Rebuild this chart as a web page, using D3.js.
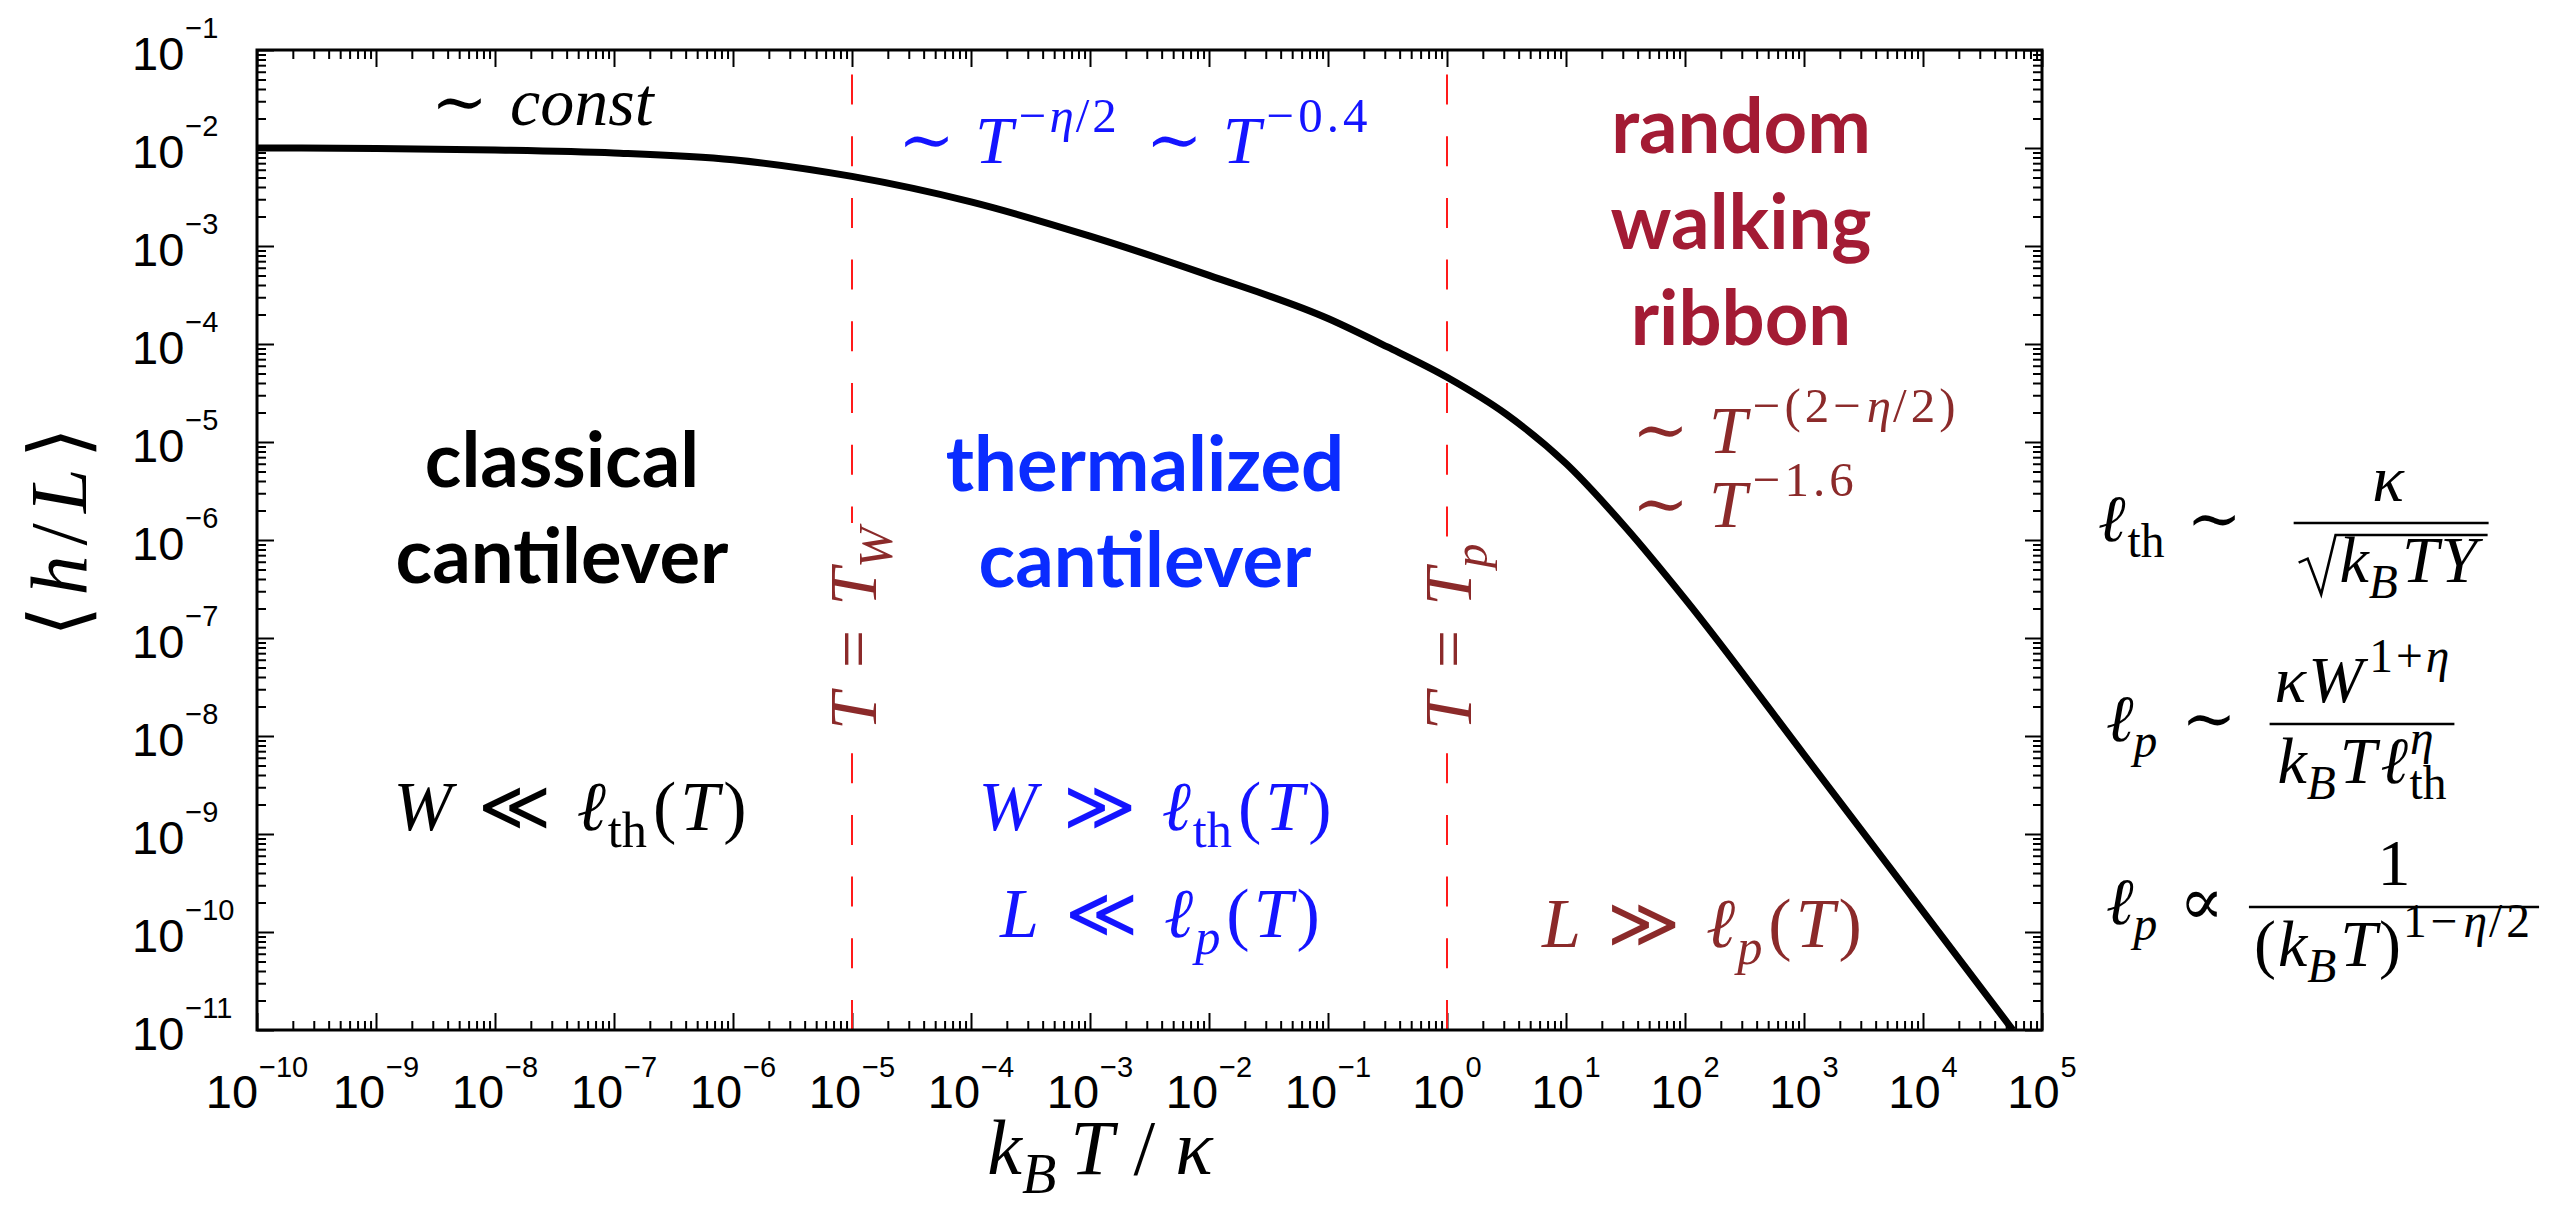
<!DOCTYPE html>
<html>
<head>
<meta charset="utf-8">
<script src="https://cdn.jsdelivr.net/npm/d3@7"></script>
<style>
  html, body { margin: 0; padding: 0; background: #fff; }
  svg { display: block; }
</style>
</head>
<body>
<svg id="chart" width="2567" height="1219"></svg>
<script>
// ---- data -------------------------------------------------------------
// reduced temperature k_B T / kappa
const temperature = [1e-10, 1e-9, 1e-8, 1e-7, 1e-6, 1e-5, 1e-4, 1e-3, 1e-2, 1e-1,
                     0.316, 1, 3.16, 10, 31.6, 100, 1e3, 1e4, 5.69e4];
// mean deflection <h/L>
const deflection  = [1.0e-2, 9.89e-3, 9.55e-3, 8.91e-3, 7.59e-3, 5.13e-3, 2.82e-3, 1.26e-3, 5.01e-4, 1.82e-4,
                     9.33e-5, 4.57e-5, 1.91e-5, 6.03e-6, 1.35e-6, 2.51e-7, 6.46e-9, 1.62e-10, 1.0e-11];
// crossover temperatures T_W and T_p
const crossovers = [1e-5, 1];
const crossoverNames = ["W", "p"];
// axis decades
const xTickExponents = [-10, -9, -8, -7, -6, -5, -4, -3, -2, -1, 0, 1, 2, 3, 4, 5];
const yTickExponents = [-11, -10, -9, -8, -7, -6, -5, -4, -3, -2, -1];

// ---- fonts & colours --------------------------------------------------
const MATH = "'Liberation Serif','DejaVu Serif',serif";
const SANS = "'Liberation Sans',Arial,Helvetica,sans-serif";
const BOLD = "Lato,'Open Sans',sans-serif";
const BLUE = "#0a2cff", BLUE_M = "#1414ff";
const RED_B = "#a31b34", RED_M = "#8b2a2a";

const svg = d3.select("#chart");
const plot = { left: 257, right: 2042, top: 50, bottom: 1030 };

const x = d3.scaleLog()
  .domain([10 ** xTickExponents[0], 10 ** xTickExponents[xTickExponents.length - 1]])
  .range([plot.left, plot.right]);
const y = d3.scaleLog()
  .domain([10 ** yTickExponents[0], 10 ** yTickExponents[yTickExponents.length - 1]])
  .range([plot.bottom, plot.top]);

// minor ticks 2..9 within each decade
function minors(exps) {
  const out = [];
  for (let i = 0; i < exps.length - 1; i++)
    for (let m = 2; m <= 9; m++) out.push(m * 10 ** exps[i]);
  return out;
}
const xMajor = xTickExponents.map(e => 10 ** e), yMajor = yTickExponents.map(e => 10 ** e);
const xMinor = minors(xTickExponents), yMinor = minors(yTickExponents);

// ---- axes (ticks point inward on all four sides) ----------------------
function addAxis(gen, tr, values, len) {
  svg.append("g").attr("transform", tr)
    .call(gen.tickValues(values).tickSizeInner(-len).tickSizeOuter(0).tickFormat(""))
    .call(g => g.select(".domain").remove())
    .call(g => g.selectAll("line").attr("stroke", "#000").attr("stroke-width", 2));
}
[[xMajor, 17], [xMinor, 9]].forEach(([v, l]) => {
  addAxis(d3.axisBottom(x), `translate(0,${plot.bottom})`, v, l);
  addAxis(d3.axisTop(x), `translate(0,${plot.top})`, v, l);
});
[[yMajor, 17], [yMinor, 9]].forEach(([v, l]) => {
  addAxis(d3.axisLeft(y), `translate(${plot.left},0)`, v, l);
  addAxis(d3.axisRight(y), `translate(${plot.right},0)`, v, l);
});

// tick labels 10^n
function expLabel(e) { return e < 0 ? "\u2212" + Math.abs(e) : String(e); }
svg.append("g").selectAll("text").data(xTickExponents).join("text")
  .attr("x", e => x(10 ** e)).attr("y", plot.bottom + 78)
  .attr("text-anchor", "middle").attr("font-family", SANS).attr("font-size", 47)
  .each(function (e) {
    const t = d3.select(this);
    t.append("tspan").text("10");
    t.append("tspan").attr("font-size", 29).attr("dy", -31).attr("dx", 1).text(expLabel(e));
  });
svg.append("g").selectAll("text").data(yTickExponents).join("text")
  .attr("x", 132).attr("y", e => y(10 ** e) + 20)
  .attr("font-family", SANS).attr("font-size", 47)
  .each(function (e) {
    const t = d3.select(this);
    t.append("tspan").text("10");
    t.append("tspan").attr("font-size", 29).attr("dy", -32).attr("dx", 1).text(expLabel(e));
  });

// ---- crossover lines --------------------------------------------------
svg.append("g").selectAll("line").data(crossovers).join("line")
  .attr("x1", d => x(d)).attr("x2", d => x(d))
  .attr("y1", y.range()[0]).attr("y2", y.range()[1])
  .attr("stroke", "#ff1a1a").attr("stroke-width", 2)
  .attr("stroke-dasharray", "30,31.7");

// ---- curve ------------------------------------------------------------
svg.append("clipPath").attr("id", "plotClip").append("rect")
  .attr("x", plot.left).attr("y", plot.top)
  .attr("width", plot.right - plot.left).attr("height", plot.bottom - plot.top);
const series = temperature.map((t, i) => [t, deflection[i]]);
svg.append("path").datum(series)
  .attr("clip-path", "url(#plotClip)")
  .attr("fill", "none").attr("stroke", "#000").attr("stroke-width", 7)
  .attr("stroke-linejoin", "round")
  .attr("d", d3.line().x(d => x(d[0])).y(d => y(d[1])).curve(d3.curveMonotoneX));

// frame
svg.append("rect").attr("x", plot.left).attr("y", plot.top)
  .attr("width", plot.right - plot.left).attr("height", plot.bottom - plot.top)
  .attr("fill", "none").attr("stroke", "#000").attr("stroke-width", 3);

// ---- math text helper -------------------------------------------------
// runs: [text, kind, dx, letterSpacing]; kind: i/r (italic/roman) + b (subscript) or p (superscript)
function math(parent, px, py, runs, o) {
  const fs = o.size;
  const t = parent.append("text").attr("x", px).attr("y", py)
    .attr("fill", o.color || "#000").attr("font-family", MATH).attr("font-size", fs)
    .attr("text-anchor", o.anchor || "start");
  if (o.rotate) t.attr("transform", `rotate(${o.rotate},${px},${py})`);
  let shift = 0;
  runs.forEach(([s, kind, dx, ls]) => {
    const sub = kind.includes("b"), sup = kind.includes("p");
    const off = sub ? 0.24 * fs : sup ? -0.45 * fs : 0;
    const ts = t.append("tspan").text(s)
      .attr("font-style", kind[0] === "i" ? "italic" : "normal")
      .attr("font-size", sub || sup ? 0.72 * fs : fs);
    if (off !== shift) ts.attr("dy", off - shift);
    if (dx) ts.attr("dx", dx);
    if (ls) ts.attr("letter-spacing", ls);
    shift = off;
  });
  if (o.width) t.attr("textLength", o.width).attr("lengthAdjust", "spacing");
  return t;
}

// fraction: numerator/denominator centred on cx around a bar at barY
function fraction(parent, cx, barY, num, den, o) {
  const fs = o.size, g = parent.append("g");
  const n = math(g, cx, barY - 0.34 * fs, num, { ...o, anchor: "middle" });
  const rw = o.sqrt ? 0.62 * fs : 0;
  const base = barY + 0.9 * fs;
  const d = math(g, cx + rw / 2, base, den, { ...o, anchor: "middle" });
  const nb = n.node().getBBox(), db = d.node().getBBox();
  if (o.sqrt) {
    const top = barY + 12, bx = db.x;
    g.append("path")
      .attr("d", `M${bx - rw},${base - 0.3 * fs} L${bx - rw + 9},${base - 0.36 * fs} ` +
                 `L${bx - rw * 0.45},${base + 0.18 * fs} L${bx - 4},${top} L${db.x + db.width + 4},${top}`)
      .attr("fill", "none").attr("stroke", o.color || "#000").attr("stroke-width", 2.6);
  }
  const x0 = Math.min(nb.x, db.x - rw) - 5, x1 = Math.max(nb.x + nb.width, db.x + db.width) + 5;
  g.append("line").attr("x1", x0).attr("x2", x1).attr("y1", barY).attr("y2", barY)
    .attr("stroke", o.color || "#000").attr("stroke-width", 2.6);
  return g;
}

const ann = svg.append("g");
const M = 68;

// regime headings
function heading(lines, cx, y0, color) {
  lines.forEach((s, i) => ann.append("text").attr("x", cx).attr("y", y0 + i * 96)
    .attr("text-anchor", "middle").attr("font-family", BOLD).attr("font-weight", 700)
    .attr("font-size", 76).attr("fill", color).text(s));
}
heading(["classical", "cantilever"], 562, 487, "#000");
heading(["thermalized", "cantilever"], 1145, 491, BLUE);
heading(["random", "walking", "ribbon"], 1741, 153, RED_B);

// scaling laws
math(ann, 431, 125, [["\u223C", "r"], ["const", "i", 22]], { size: M });
math(ann, 898, 163, [["\u223C", "r"], ["T", "i", 20], ["\u2212", "rp", 6], ["\u03B7", "ip", 3], ["/2", "rp", 2, 3],
                     ["\u223C", "r", 26], ["T", "i", 20], ["\u22120.4", "rp", 6, 4]], { size: M, color: BLUE_M });
math(ann, 1632, 453, [["\u223C", "r"], ["T", "i", 20], ["\u2212(2\u2212", "rp", 6, 4], ["\u03B7", "ip", 2], ["/2)", "rp", 2, 4]],
     { size: M, color: RED_M });
math(ann, 1632, 527, [["\u223C", "r"], ["T", "i", 20], ["\u22121.6", "rp", 6, 4]], { size: M, color: RED_M });

// regime conditions
function condition(cx, by, a, rel, sub, subKind, color) {
  math(ann, cx, by, [[a, "i"], [rel, "r", 26], ["\u2113", "i", 26], [sub, subKind, 2], ["(", "r", 6], ["T", "i", 4], [")", "r", 4]],
       { size: 70, anchor: "middle", color });
}
condition(570, 830, "W", "\u226A", "th", "rb", "#000");
condition(1155, 830, "W", "\u226B", "th", "rb", BLUE_M);
condition(1160, 937, "L", "\u226A", "p", "ib", BLUE_M);
condition(1702, 947, "L", "\u226B", "p", "ib", RED_M);

// crossover labels along the dashed lines, on a white patch
crossovers.forEach((c, i) => {
  const lab = math(ann, x(c) + 24, 730, [["T", "i"], ["=", "r", 24], ["T", "i", 24], [crossoverNames[i], "ib"]],
       { size: M, color: RED_M, rotate: -90 });
  const b = lab.node().getBBox();
  ann.insert("rect", () => lab.node())
    .attr("x", b.x).attr("y", b.y + 6).attr("width", b.width).attr("height", b.height - 10)
    .attr("transform", lab.attr("transform")).attr("fill", "#fff");
});

// axis titles
math(ann, 86, 532, [["\u27E8", "r"], ["h", "i"], ["/", "r"], ["L", "i"], ["\u27E9", "r"]],
     { size: 80, anchor: "middle", rotate: -90, width: 210 });
math(ann, 1100, 1174, [["k", "i"], ["B", "ib"], ["T", "i", 14], ["/", "r", 20], ["\u03BA", "i", 20]],
     { size: 78, anchor: "middle" });

// length scales
const F = 66;
math(ann, 2098, 541, [["\u2113", "i"], ["th", "rb", 2], ["\u223C", "r", 22]], { size: F });
fraction(ann, 2388, 523, [["\u03BA", "i"]], [["k", "i"], ["B", "ib"], ["T", "i", 4], ["Y", "i", 2]], { size: F, sqrt: true });

math(ann, 2106, 741, [["\u2113", "i"], ["p", "ib"], ["\u223C", "r", 24]], { size: F });
fraction(ann, 2362, 724,
  [["\u03BA", "i"], ["W", "i", 2], ["1+", "rp", 6, 3], ["\u03B7", "ip"]],
  [["k", "i"], ["B", "ib"], ["T", "i", 4], ["\u2113", "i", 4], ["\u03B7", "ip", 2], ["th", "rb", -24]], { size: F });

math(ann, 2106, 924, [["\u2113", "i"], ["p", "ib"], ["\u221D", "r", 22]], { size: F });
fraction(ann, 2394, 907, [["1", "r"]],
  [["(", "r"], ["k", "i", 2], ["B", "ib"], ["T", "i", 4], [")", "r", 2], ["1\u2212", "rp", 2, 4], ["\u03B7", "ip", 2], ["/2", "rp", 2, 4]],
  { size: F });
</script>
</body>
</html>
